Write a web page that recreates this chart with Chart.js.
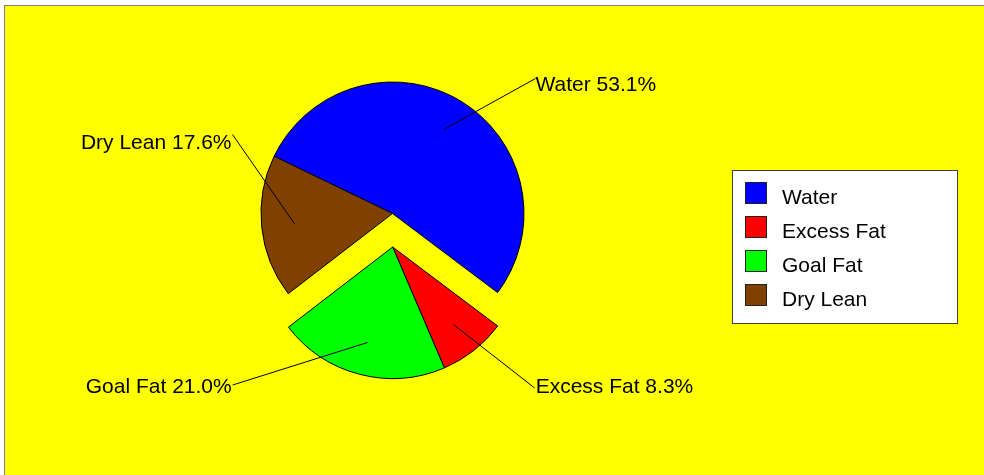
<!DOCTYPE html>
<html>
<head>
<meta charset="utf-8">
<script src="https://cdn.jsdelivr.net/npm/chart.js@4"></script>
<style>
  html, body { margin: 0; padding: 0; background: #ffffff; }
  canvas { display: block; }
</style>
</head>
<body>
<canvas id="bodyPieChart" width="984" height="475"></canvas>
<script>
const categories = ["Water", "Excess Fat", "Goal Fat", "Dry Lean"];
const percentValues = [53.1, 8.3, 21.0, 17.6];
const sliceColors = ["#0000ff", "#ff0000", "#00ff00", "#804000"];
const explodedSlices = [false, true, true, false];

// where each label sits, relative to its slice centre
const labelSpots = [
  { dx: 143, dy: -135, align: "left", tx: 0, ty: 12.5 },
  { dx: 142, dy: 141, align: "left", tx: 1, ty: 5.5 },
  { dx: -160, dy: 138, align: "right", tx: -1, ty: 7.7 },
  { dx: -160, dy: -79, align: "right", tx: -1, ty: 14 },
];

const EXPLODE = 33.5;
const FONT = "21px 'Liberation Sans', Arial, sans-serif";

function explodeShift(meta) {
  const arcs = meta.data.filter((a, i) => explodedSlices[i]);
  if (!arcs.length) return { x: 0, y: 0 };
  const mid = (arcs[0].startAngle + arcs[arcs.length - 1].endAngle) / 2;
  return { x: Math.cos(mid) * EXPLODE, y: Math.sin(mid) * EXPLODE };
}

const panelPlugin = {
  id: "panel",
  beforeDraw(chart) {
    const ctx = chart.ctx;
    ctx.save();
    ctx.fillStyle = "#ffffff";
    ctx.fillRect(0, 0, chart.width, chart.height);
    ctx.fillStyle = "#ffff00";
    ctx.fillRect(5, 6, chart.width - 5, chart.height - 6);
    ctx.fillStyle = "#808080";
    ctx.fillRect(4, 5, chart.width - 4, 1);
    ctx.fillRect(4, 5, 1, chart.height - 5);
    ctx.restore();
  },
};

const explodePlugin = {
  id: "explodeGroup",
  beforeDatasetDraw(chart, args) {
    const ctx = chart.ctx;
    const shift = explodeShift(args.meta);
    args.meta.data.forEach((arc, i) => {
      ctx.save();
      if (explodedSlices[i]) ctx.translate(shift.x, shift.y);
      arc.draw(ctx);
      ctx.restore();
    });
    return false;
  },
};

const labelPlugin = {
  id: "sliceLabels",
  afterDatasetsDraw(chart) {
    const ctx = chart.ctx;
    const meta = chart.getDatasetMeta(0);
    const shift = explodeShift(meta);
    const total = percentValues.reduce((a, b) => a + b, 0);
    ctx.save();
    ctx.font = FONT;
    ctx.fillStyle = "#000000";
    ctx.strokeStyle = "#000000";
    ctx.lineWidth = 1;
    meta.data.forEach((arc, i) => {
      const sx = explodedSlices[i] ? shift.x : 0;
      const sy = explodedSlices[i] ? shift.y : 0;
      const cx = arc.x + sx;
      const cy = arc.y + sy;
      const mid = (arc.startAngle + arc.endAngle) / 2;
      const r = arc.outerRadius * 0.75;
      const spot = labelSpots[i];
      const ex = cx + spot.dx;
      const ey = cy + spot.dy;
      ctx.beginPath();
      ctx.moveTo(cx + Math.cos(mid) * r, cy + Math.sin(mid) * r);
      ctx.lineTo(ex, ey);
      ctx.stroke();
      const pct = (percentValues[i] / total * 100).toFixed(1);
      ctx.textAlign = spot.align;
      ctx.textBaseline = "alphabetic";
      ctx.fillText(categories[i] + " " + pct + "%", ex + spot.tx, ey + spot.ty);
    });
    ctx.restore();
  },
  afterDraw(chart) {
    // legend box on the right
    const ctx = chart.ctx;
    ctx.save();
    ctx.fillStyle = "#ffffff";
    ctx.fillRect(732, 170, 225, 153);
    ctx.strokeStyle = "#404040";
    ctx.lineWidth = 1;
    ctx.strokeRect(732.5, 170.5, 225, 153);
    ctx.font = FONT;
    ctx.textAlign = "left";
    ctx.textBaseline = "alphabetic";
    categories.forEach((name, i) => {
      const y = 182 + i * 34;
      ctx.fillStyle = sliceColors[i];
      ctx.fillRect(745, y, 21, 21);
      ctx.strokeStyle = "#202020";
      ctx.strokeRect(745.5, y + 0.5, 21, 21);
      ctx.fillStyle = "#000000";
      ctx.fillText(name, 782, 204 + i * 34);
    });
    ctx.restore();
  },
};

const ctx = document.getElementById("bodyPieChart").getContext("2d");

new Chart(ctx, {
  type: "pie",
  data: {
    labels: categories,
    datasets: [
      {
        data: percentValues,
        backgroundColor: sliceColors,
        borderColor: "#000000",
        borderWidth: 1,
      },
    ],
  },
  options: {
    responsive: false,
    animation: false,
    events: [],
    rotation: -64.2,
    radius: 131.5,
    layout: {
      padding: { left: 0, top: 0, right: 199, bottom: 48 },
    },
    plugins: {
      legend: { display: false },
      tooltip: { enabled: false },
    },
  },
  plugins: [panelPlugin, explodePlugin, labelPlugin],
});
</script>
</body>
</html>
